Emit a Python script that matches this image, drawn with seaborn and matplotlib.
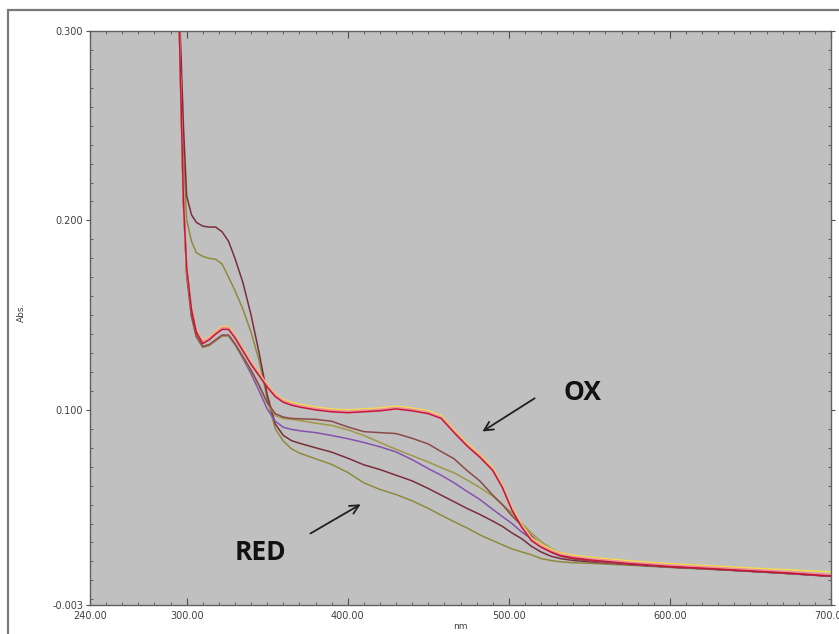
import numpy as np
import pandas as pd
import matplotlib
matplotlib.use("Agg")
import matplotlib.pyplot as plt
import seaborn as sns
from matplotlib.patches import Rectangle
from matplotlib.ticker import MultipleLocator

# ---------------- data ----------------
wavelength = [294, 296, 298, 300, 303, 306, 310, 314, 318, 322, 326, 330, 335, 340, 345,
              350, 355, 360, 365, 370, 380, 390, 400, 410, 420, 430, 440, 450, 458, 466,
              474, 482, 490, 496, 502, 508, 514, 520, 526, 532, 540, 550, 560, 575, 600,
              625, 650, 675, 700]

red_olive = [0.360, 0.290, 0.235, 0.2005, 0.189, 0.183, 0.181, 0.180, 0.1795, 0.177, 0.170, 0.163, 0.153, 0.141, 0.126,
             0.106, 0.090, 0.0835, 0.0795, 0.0772, 0.0742, 0.0712, 0.067, 0.0615, 0.058, 0.0553, 0.052, 0.048, 0.0444, 0.041,
             0.0377, 0.034, 0.031, 0.0288, 0.0266, 0.025, 0.0235, 0.0215, 0.0205, 0.0198, 0.0193, 0.019, 0.0186, 0.018, 0.0168,
             0.0158, 0.0147, 0.0135, 0.0122]

red_maroon = [0.360, 0.300, 0.250, 0.213, 0.203, 0.199, 0.197, 0.1965, 0.1965, 0.194, 0.189, 0.180, 0.167, 0.150, 0.130,
              0.108, 0.0925, 0.0865, 0.0838, 0.0824, 0.080, 0.0777, 0.0745, 0.071, 0.0685, 0.0655, 0.0625, 0.0585, 0.055, 0.0515,
              0.048, 0.0448, 0.0413, 0.0385, 0.035, 0.032, 0.028, 0.025, 0.0228, 0.0215, 0.0205, 0.0198, 0.0192, 0.0183, 0.017,
              0.016, 0.0148, 0.0135, 0.0121]

mid_purple = [0.360, 0.280, 0.210, 0.171, 0.149, 0.1385, 0.133, 0.134, 0.1365, 0.139, 0.139, 0.1345, 0.127, 0.119, 0.110,
              0.1005, 0.094, 0.0908, 0.0897, 0.089, 0.088, 0.0865, 0.0848, 0.0828, 0.0805, 0.0778, 0.0737, 0.069, 0.0655, 0.0615,
              0.057, 0.0527, 0.0475, 0.0437, 0.040, 0.0355, 0.032, 0.029, 0.026, 0.0237, 0.0218, 0.0203, 0.0195, 0.0185, 0.017,
              0.016, 0.0148, 0.0136, 0.0122]

mid_olive = [0.360, 0.280, 0.210, 0.1715, 0.1495, 0.1385, 0.133, 0.134, 0.1365, 0.139, 0.139, 0.1345, 0.1275, 0.1205, 0.1125,
             0.1035, 0.097, 0.0955, 0.095, 0.0944, 0.093, 0.0918, 0.0895, 0.0865, 0.0828, 0.0792, 0.0758, 0.0725, 0.0695, 0.0668,
             0.063, 0.059, 0.0545, 0.050, 0.0455, 0.040, 0.035, 0.0305, 0.027, 0.0245, 0.022, 0.0205, 0.0196, 0.0186, 0.0171,
             0.0161, 0.0149, 0.0137, 0.0123]

mid_brown = [0.360, 0.280, 0.210, 0.172, 0.150, 0.139, 0.1335, 0.1345, 0.137, 0.1395, 0.1395, 0.135, 0.128, 0.121, 0.113,
             0.104, 0.098, 0.0962, 0.0955, 0.0953, 0.095, 0.094, 0.091, 0.0885, 0.088, 0.0875, 0.085, 0.082, 0.078, 0.0742,
             0.068, 0.0625, 0.055, 0.050, 0.044, 0.039, 0.0335, 0.0286, 0.025, 0.0228, 0.0213, 0.0203, 0.0196, 0.0185, 0.017,
             0.016, 0.0148, 0.0136, 0.0122]

ox_red = [0.360, 0.280, 0.210, 0.175, 0.153, 0.141, 0.135, 0.137, 0.140, 0.1425, 0.1425, 0.138, 0.131, 0.124, 0.118,
          0.112, 0.107, 0.104, 0.1025, 0.1015, 0.100, 0.099, 0.0985, 0.099, 0.0995, 0.1005, 0.0995, 0.098, 0.0955, 0.088,
          0.081, 0.075, 0.068, 0.059, 0.047, 0.038, 0.031, 0.0275, 0.025, 0.023, 0.0218, 0.0208, 0.020, 0.0188, 0.0173,
          0.0162, 0.015, 0.0138, 0.0123]

ox_pink = [0.360, 0.281, 0.211, 0.176, 0.154, 0.142, 0.136, 0.138, 0.141, 0.1435, 0.1435, 0.139, 0.132, 0.125, 0.119,
           0.113, 0.108, 0.105, 0.1033, 0.1023, 0.1008, 0.0998, 0.0993, 0.0998, 0.1003, 0.1013, 0.1003, 0.0988, 0.0963, 0.0888,
           0.0818, 0.0758, 0.0688, 0.0598, 0.0478, 0.0388, 0.0318, 0.0283, 0.0258, 0.0238, 0.0226, 0.0216, 0.0208, 0.0196, 0.0181,
           0.017, 0.0158, 0.0146, 0.0131]

ox_yellow = [0.360, 0.279, 0.209, 0.174, 0.154, 0.1425, 0.1365, 0.1385, 0.1415, 0.144, 0.144, 0.1395, 0.1325, 0.1255, 0.1195,
             0.1135, 0.1085, 0.1055, 0.104, 0.103, 0.1015, 0.1005, 0.100, 0.1005, 0.101, 0.102, 0.101, 0.0995, 0.097, 0.0895,
             0.0825, 0.0765, 0.0695, 0.0605, 0.0485, 0.0395, 0.0325, 0.029, 0.0265, 0.0245, 0.0233, 0.0223, 0.0215, 0.0203, 0.0188,
             0.0177, 0.0165, 0.0155, 0.0145]

series = {
    "red_olive": red_olive,
    "red_maroon": red_maroon,
    "mid_purple": mid_purple,
    "mid_olive": mid_olive,
    "mid_brown": mid_brown,
    "ox_yellow": ox_yellow,
    "ox_pink": ox_pink,
    "ox_red": ox_red,
}
palette = {
    "red_olive": "#8e8a3e",
    "red_maroon": "#7a2e3c",
    "mid_purple": "#8452b0",
    "mid_olive": "#9e9848",
    "mid_brown": "#8a4a48",
    "ox_yellow": "#f2dc50",
    "ox_pink": "#f29098",
    "ox_red": "#c8143c",
}

x_ticks = [240, 300, 400, 500, 600, 700]
y_ticks = [-0.003, 0.100, 0.200, 0.300]

frames = []
for name, vals in series.items():
    frames.append(pd.DataFrame({"wl": wavelength, "abs": vals, "curve": name}))
df = pd.concat(frames, ignore_index=True)

# ---------------- figure ----------------
W, H = 839, 634
fig = plt.figure(figsize=(W / 100, H / 100), dpi=100)
fig.patch.set_facecolor("white")
ax = fig.add_axes([90 / W, 1 - 605 / H, (831 - 90) / W, (605 - 31) / H])
ax.set_facecolor("#c0c0c0")

sns.lineplot(data=df, x="wl", y="abs", hue="curve", hue_order=list(series.keys()),
             palette=palette, estimator=None, sort=False, legend=False,
             linewidth=1.1, ax=ax)

ax.set_xlim(240, 700)
ax.set_ylim(-0.003, 0.300)

ax.set_xticks(x_ticks)
ax.set_xticklabels([f"{v:.2f}" for v in x_ticks])
ax.set_yticks(y_ticks)
ax.set_yticklabels([f"{v:.3f}" for v in y_ticks])
ax.xaxis.set_minor_locator(MultipleLocator(10))
ax.yaxis.set_minor_locator(MultipleLocator(0.01))

ax.tick_params(axis="x", which="major", direction="in", length=5, width=0.8,
               labelsize=7, labelcolor="#404040", color="#505050", pad=4,
               top=True, bottom=True)
ax.tick_params(axis="x", which="minor", direction="in", length=2.5, width=0.6,
               color="#505050", top=True, bottom=True)
ax.tick_params(axis="y", which="major", direction="out", length=3, width=0.8,
               labelsize=7, labelcolor="#404040", color="#505050", pad=2,
               left=True, right=True)
ax.tick_params(axis="y", which="minor", direction="in", length=2.5, width=0.6,
               color="#505050", left=True, right=True)

for s in ax.spines.values():
    s.set_color("#606060")
    s.set_linewidth(1.0)

ax.set_xlabel("nm", fontsize=6.5, color="#404040", labelpad=1)
ax.set_ylabel("Abs.", fontsize=6.5, color="#404040")
ax.yaxis.set_label_coords(-0.087, 0.51)

# annotations
ax.annotate("", xy=(482.1, 0.0878), xytext=(517.5, 0.1069),
            arrowprops=dict(arrowstyle="->", color="#202020", lw=1.3, mutation_scale=16))
ax.annotate("", xy=(409.5, 0.0509), xytext=(375.3, 0.0340),
            arrowprops=dict(arrowstyle="->", color="#202020", lw=1.3, mutation_scale=16))
ax.text(546, 0.109, "OX", fontsize=19, fontweight="bold", family=["Open Sans", "DejaVu Sans"],
        color="#111111", ha="center", va="center")
ax.text(346, 0.0245, "RED", fontsize=19, fontweight="bold", family=["Open Sans", "DejaVu Sans"],
        color="#111111", ha="center", va="center")

# outer frame of the picture
fig.patches.append(Rectangle((8 / W, -0.1), 1.2, 1.1 - 10 / H, transform=fig.transFigure,
                             fill=False, edgecolor="#7a7a7a", lw=1.6, zorder=10))

fig.savefig("out.png", dpi=100)
